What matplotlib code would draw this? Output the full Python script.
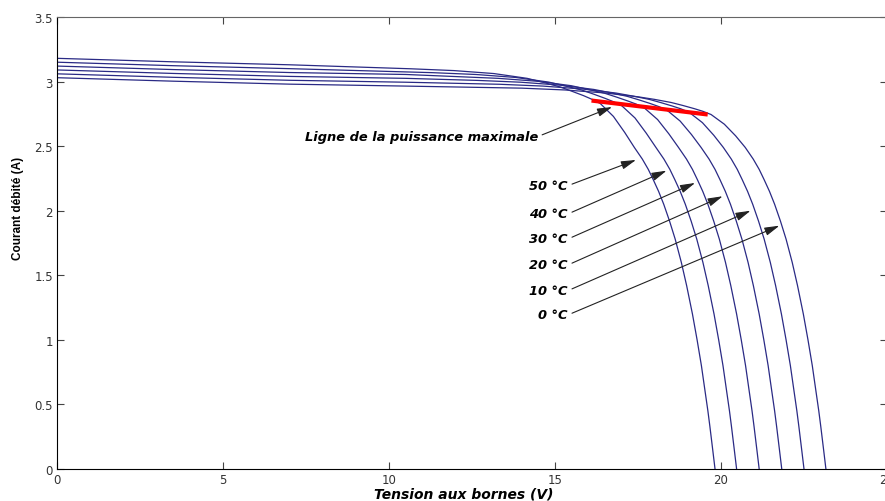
import numpy as np
import matplotlib.pyplot as plt

# I-V curves, one pair of lists per temperature
temps = [0, 10, 20, 30, 40, 50]

v_0 = [0, 3.5, 7, 10.5, 14, 15.3, 16.5, 17.5, 18.0, 18.5, 18.85, 19.2, 19.45, 19.7, 20.1, 20.44,
       20.73, 20.97, 21.15, 21.30, 21.46, 21.615, 21.79, 21.96, 22.145, 22.305, 22.48, 22.62,
       22.75, 22.85, 22.945, 23.005, 23.09, 23.16]
i_0 = [3.03, 3.003, 2.98, 2.965, 2.949, 2.935, 2.912, 2.882, 2.862, 2.838, 2.815, 2.79, 2.77, 2.745, 2.67, 2.58,
       2.49, 2.40, 2.32, 2.24, 2.15, 2.05, 1.92, 1.78, 1.60, 1.42, 1.20, 1.00,
       0.80, 0.62, 0.45, 0.33, 0.15, 0]

v_10 = [0, 3.5, 7, 10.5, 13.34, 14.64, 15.84, 16.84, 17.34, 17.84, 18.19, 18.54, 18.79, 19.04, 19.44, 19.78,
        20.07, 20.31, 20.49, 20.64, 20.80, 20.955, 21.13, 21.30, 21.485, 21.645, 21.82, 21.96,
        22.09, 22.19, 22.285, 22.345, 22.43, 22.50]
i_10 = [3.06, 3.033, 3.01, 2.995, 2.979, 2.965, 2.942, 2.911, 2.888, 2.862, 2.837, 2.810, 2.789, 2.762, 2.682, 2.585,
        2.49, 2.40, 2.32, 2.24, 2.15, 2.05, 1.92, 1.78, 1.60, 1.42, 1.20, 1.00,
        0.80, 0.62, 0.45, 0.33, 0.15, 0]

v_20 = [0, 3.5, 7, 10.5, 12.67, 13.97, 15.17, 16.17, 16.67, 17.17, 17.52, 17.87, 18.12, 18.37, 18.77, 19.11,
        19.40, 19.64, 19.82, 19.97, 20.13, 20.285, 20.46, 20.63, 20.815, 20.975, 21.15, 21.29,
        21.42, 21.52, 21.615, 21.675, 21.76, 21.83]
i_20 = [3.09, 3.063, 3.04, 3.025, 3.009, 2.995, 2.972, 2.939, 2.914, 2.886, 2.859, 2.830, 2.807, 2.779, 2.694, 2.590,
        2.49, 2.40, 2.32, 2.24, 2.15, 2.05, 1.92, 1.78, 1.60, 1.42, 1.20, 1.00,
        0.80, 0.62, 0.45, 0.33, 0.15, 0]

v_30 = [0, 3.5, 7, 10.5, 11.99, 13.29, 14.49, 15.49, 15.99, 16.49, 16.84, 17.19, 17.44, 17.69, 18.09, 18.43,
        18.72, 18.96, 19.14, 19.29, 19.45, 19.605, 19.78, 19.95, 20.135, 20.295, 20.47, 20.61,
        20.74, 20.84, 20.935, 20.995, 21.08, 21.15]
i_30 = [3.12, 3.093, 3.07, 3.055, 3.039, 3.025, 3.002, 2.968, 2.940, 2.910, 2.881, 2.850, 2.826, 2.796, 2.706, 2.595,
        2.49, 2.40, 2.32, 2.24, 2.15, 2.05, 1.92, 1.78, 1.60, 1.42, 1.20, 1.00,
        0.80, 0.62, 0.45, 0.33, 0.15, 0]

v_40 = [0, 3.5, 7, 11.31, 12.61, 13.81, 14.81, 15.31, 15.81, 16.16, 16.51, 16.76, 17.01, 17.41, 17.75,
        18.04, 18.28, 18.46, 18.61, 18.77, 18.925, 19.10, 19.27, 19.455, 19.615, 19.79, 19.93,
        20.06, 20.16, 20.255, 20.315, 20.40, 20.47]
i_40 = [3.15, 3.123, 3.10, 3.069, 3.055, 3.032, 2.996, 2.966, 2.934, 2.903, 2.870, 2.844, 2.813, 2.718, 2.600,
        2.49, 2.40, 2.32, 2.24, 2.15, 2.05, 1.92, 1.78, 1.60, 1.42, 1.20, 1.00,
        0.80, 0.62, 0.45, 0.33, 0.15, 0]

v_50 = [0, 3.5, 7, 10.66, 11.96, 13.16, 14.16, 14.66, 15.16, 15.51, 15.86, 16.11, 16.36, 16.76, 17.10,
        17.39, 17.63, 17.81, 17.96, 18.12, 18.275, 18.45, 18.62, 18.805, 18.965, 19.14, 19.28,
        19.41, 19.51, 19.605, 19.665, 19.75, 19.82]
i_50 = [3.18, 3.153, 3.13, 3.099, 3.085, 3.062, 3.025, 2.993, 2.958, 2.925, 2.891, 2.863, 2.831, 2.730, 2.606,
        2.49, 2.40, 2.32, 2.24, 2.15, 2.05, 1.92, 1.78, 1.60, 1.42, 1.20, 1.00,
        0.80, 0.62, 0.45, 0.33, 0.15, 0]

curves = [(v_0, i_0), (v_10, i_10), (v_20, i_20), (v_30, i_30), (v_40, i_40), (v_50, i_50)]

# maximum power line
mpp_v = [16.1, 19.6]
mpp_i = [2.853, 2.745]

x_ticks = [0, 5, 10, 15, 20, 25]
y_ticks = [0, 0.5, 1, 1.5, 2, 2.5, 3, 3.5]
y_tick_labels = ['0', '0.5', '1', '1.5', '2', '2.5', '3', '3.5']

fig = plt.figure(figsize=(8.85, 5.02), dpi=100)
ax = fig.add_axes([57 / 885, 32 / 502, 830 / 885, 452 / 502])

for v, i in curves:
    ax.plot(v, i, color='#2a2a85', lw=0.9)

ax.plot(mpp_v, mpp_i, color='red', lw=3, solid_capstyle='butt')

ax.set_xlim(0, 25)
ax.set_ylim(0, 3.5)
ax.set_xticks(x_ticks)
ax.set_xticklabels([str(t) for t in x_ticks])
ax.set_yticks(y_ticks)
ax.set_yticklabels(y_tick_labels)
ax.tick_params(direction='in', length=5, width=0.8, top=True, right=True,
               labelsize=8.5, labelcolor='#333333', color='#444444', pad=3)
for side in ['left', 'bottom']:
    ax.spines[side].set_color('black')
ax.spines['top'].set_color('#666666')

lbl = dict(family='DejaVu Sans', weight='bold', style='italic', size=9.4)
arrow = dict(arrowstyle='-|>,head_length=0.9,head_width=0.25', color='#222222', lw=0.8,
             mutation_scale=10, shrinkA=1, shrinkB=0, relpos=(1, 0.5))

ax.annotate('Ligne de la puissance maximale', xy=(16.72, 2.803), xytext=(14.49, 2.575),
            ha='right', va='center', arrowprops=arrow, **lbl)

# temperature labels: (text end, arrow tip)
label_txt = [(15.39, 2.194), (15.39, 1.975), (15.39, 1.781), (15.39, 1.580), (15.39, 1.381), (15.39, 1.193)]
label_tip = [(17.44, 2.393), (18.36, 2.310), (19.22, 2.215), (20.05, 2.112), (20.89, 2.000), (21.76, 1.884)]
for t, xt, tip in zip(temps[::-1], label_txt, label_tip):
    ax.annotate(f'{t} °C', xy=tip, xytext=xt, ha='right', va='center',
                arrowprops=arrow, **lbl)

fig.text(464 / 885, 1 - 495 / 502, 'Tension aux bornes (V)', ha='center', va='center',
         family='DejaVu Sans', weight='bold', style='italic', size=10)
fig.text(18 / 885, 1 - 208 / 502, 'Courant débité (A)', ha='center', va='center',
         rotation=90, family='Liberation Sans', weight='bold', size=8.5)

fig.savefig('out.png', dpi=100)
